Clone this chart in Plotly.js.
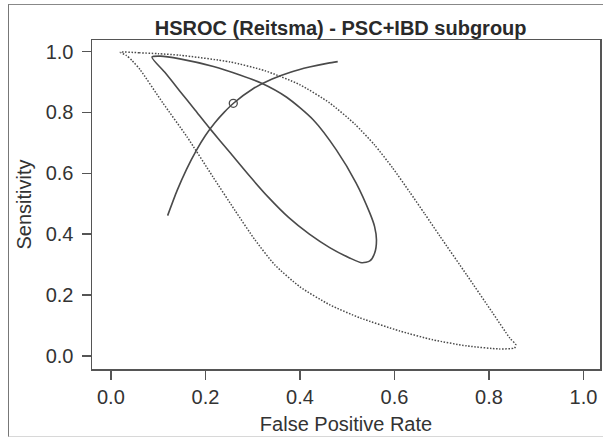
<!DOCTYPE html>
<html>
<head>
<meta charset="utf-8">
<script src="https://cdn.plot.ly/plotly-3.0.1.min.js"></script>
<style>
  html, body { margin:0; padding:0; background:#ffffff; overflow:hidden; }
  #frame { position:absolute; left:8px; top:4px; width:700px; height:431px;
           border-left:1.5px solid #777; border-top:1.5px solid #888; border-bottom:1.5px solid #d8d8d8; }
  #chart { position:absolute; left:0; top:0; width:603px; height:437px; }
</style>
</head>
<body>
<div id="frame"></div>
<div id="chart"></div>
<script>
// HSROC curve (solid)
const srocFpr  = [0.12, 0.14, 0.16, 0.18, 0.20, 0.22, 0.24, 0.26, 0.30, 0.34, 0.38, 0.42, 0.46, 0.48];
const srocSens = [0.461, 0.543, 0.613, 0.673, 0.724, 0.766, 0.801, 0.831, 0.877, 0.909, 0.932, 0.949, 0.962, 0.967];

// Confidence region (solid, closed)
const ciFpr  = [0.087, 0.105, 0.146, 0.217, 0.273, 0.319, 0.372, 0.428, 0.477, 0.519, 0.548, 0.558, 0.562, 0.558, 0.548, 0.531, 0.505, 0.463, 0.420, 0.376, 0.334, 0.294, 0.252, 0.210, 0.178, 0.146, 0.115, 0.087];
const ciSens = [0.982, 0.985, 0.976, 0.951, 0.923, 0.896, 0.850, 0.776, 0.677, 0.568, 0.469, 0.425, 0.381, 0.337, 0.312, 0.306, 0.322, 0.356, 0.400, 0.455, 0.520, 0.590, 0.668, 0.746, 0.808, 0.870, 0.930, 0.982];

// Prediction region (dotted, closed)
const prFpr  = [0.020, 0.060, 0.100, 0.146, 0.252, 0.326, 0.400, 0.463, 0.516, 0.558, 0.596, 0.632, 0.664, 0.696, 0.753, 0.808, 0.844, 0.857, 0.854, 0.822, 0.753, 0.681, 0.611, 0.527, 0.463, 0.400, 0.347, 0.305, 0.263, 0.216, 0.161, 0.110, 0.062, 0.045, 0.033, 0.020];
const prSens = [0.998, 0.996, 0.993, 0.988, 0.966, 0.937, 0.891, 0.831, 0.762, 0.693, 0.618, 0.539, 0.467, 0.394, 0.266, 0.141, 0.059, 0.036, 0.026, 0.023, 0.033, 0.053, 0.082, 0.125, 0.168, 0.227, 0.299, 0.381, 0.477, 0.588, 0.720, 0.831, 0.940, 0.970, 0.987, 0.998];

// Summary point
const sumFpr  = [0.259];
const sumSens = [0.830];

const tickVals = [0, 0.2, 0.4, 0.6, 0.8, 1.0];
const tickText = ['0.0', '0.2', '0.4', '0.6', '0.8', '1.0'];

const lineCol = '#4a4a4a';
const fontFam = 'Liberation Sans, Arial, Helvetica, sans-serif';

const traces = [
  { x: prFpr, y: prSens, type: 'scatter', mode: 'lines',
    line: { color: '#4a4a4a', width: 1.5, dash: '1.5px,1.6px', shape: 'spline', smoothing: 0.6 }, hoverinfo: 'skip' },
  { x: ciFpr, y: ciSens, type: 'scatter', mode: 'lines',
    line: { color: lineCol, width: 1.6, shape: 'spline', smoothing: 0.7 }, hoverinfo: 'skip' },
  { x: srocFpr, y: srocSens, type: 'scatter', mode: 'lines',
    line: { color: lineCol, width: 1.6, shape: 'spline', smoothing: 0.6 }, hoverinfo: 'skip' },
  { x: sumFpr, y: sumSens, type: 'scatter', mode: 'markers',
    marker: { symbol: 'circle-open', size: 8, color: lineCol, line: { width: 1.3, color: lineCol } }, hoverinfo: 'skip' }
];

const axisCommon = {
  tickvals: tickVals, ticktext: tickText,
  showline: true, mirror: true, linecolor: '#555555', linewidth: 1.5,
  ticks: 'outside', ticklen: 9, tickwidth: 1.5, tickcolor: '#555555',
  showgrid: false, zeroline: false,
  tickfont: { family: fontFam, size: 20, color: '#333333' }
};

const layout = {
  width: 603, height: 437,
  margin: { l: 92, r: 3, t: 40, b: 68, pad: 0 },
  paper_bgcolor: 'rgba(0,0,0,0)', plot_bgcolor: '#ffffff',
  showlegend: false,
  font: { family: fontFam, color: '#333333' },
  title: { text: '<b>HSROC (Reitsma) - PSC+IBD subgroup</b>', font: { family: fontFam, size: 20, color: '#2a2a2a' },
           x: 0.565, xanchor: 'center', y: 0.936, yanchor: 'middle' },
  xaxis: Object.assign({}, axisCommon, {
    range: [-0.04, 1.035],
    title: { text: 'False Positive Rate', font: { family: fontFam, size: 20, color: '#333333' }, standoff: 10 }
  }),
  yaxis: Object.assign({}, axisCommon, {
    range: [-0.043, 1.038],
    ticklabelstandoff: 4,
    title: { text: 'Sensitivity', font: { family: fontFam, size: 20, color: '#333333' }, standoff: 8 }
  })
};

Plotly.newPlot('chart', traces, layout, { staticPlot: true, displayModeBar: false });
</script>
</body>
</html>
